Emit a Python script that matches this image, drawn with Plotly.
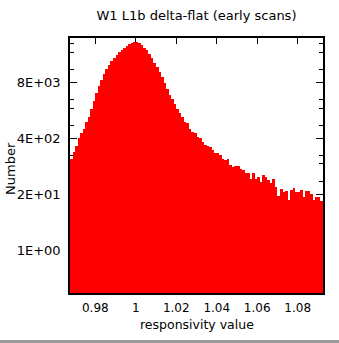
import numpy as np
import plotly.graph_objects as go

# Histogram of responsivity values: 100 bins of width 0.00125 starting at 0.9675
bin_start = 0.9675
bin_width = 0.00125
counts = [
    131, 193, 262, 396, 535, 641, 933, 1259, 1901, 2965,
    4406, 6516, 8980, 12390, 16180, 20060, 24200, 29170, 34260, 39170,
    44790, 49860, 55480, 60800, 65880, 69860, 68760, 64120, 58490, 51180,
    43620, 36150, 29170, 22920, 18020, 13790, 10270, 7450, 5550, 4130,
    3162, 2420, 1901, 1535, 1239, 973, 885, 651, 564, 518,
    418, 396, 330, 284, 262, 253, 212, 177, 180, 162,
    131, 127, 131, 94.8, 85.2, 87.5, 89.9, 75.3, 72.5, 62.8,
    62.8, 44.1, 60.8, 44.1, 49.1, 38.8, 55.5, 50.7, 42.5, 36.7,
    44.1, 29.7, 18.0, 25.8, 22.7, 23.9, 14.5, 24.9, 27.2, 22.7,
    22.7, 24.9, 17.4, 23.9, 23.9, 19.7, 14.5, 17.4, 16.8, 14.0,
]
bin_centers = bin_start + bin_width * (np.arange(len(counts)) + 0.5)

x_tick_vals = [0.98, 1.0, 1.02, 1.04, 1.06, 1.08]
x_tick_text = ["0.98", "1", "1.02", "1.04", "1.06", "1.08"]
y_tick_vals = [1, 20, 400, 8000]
y_tick_text = ["1E+00", "2E+01", "4E+02", "8E+03"]
y_minor_vals = [0.2, 0.5, 0.8, 2, 5, 8, 40, 100, 160, 800, 2000, 3200,
                16000, 40000, 64000]

font_family = "DejaVu Sans"
W, H = 339, 343
ML, MR, MT, MB = 70, 16, 38, 50
plot_w, plot_h = W - ML - MR, H - MT - MB

fig = go.Figure()
fig.add_trace(go.Bar(
    x=bin_centers,
    y=counts,
    width=bin_width,
    marker=dict(color="#ff0000", line=dict(width=0)),
    hoverinfo="x+y",
))

fig.update_layout(
    width=W,
    height=H,
    margin=dict(l=ML, r=MR, t=MT, b=MB),
    paper_bgcolor="white",
    plot_bgcolor="white",
    bargap=0,
    showlegend=False,
    font=dict(family=font_family, size=12, color="black"),
    title=dict(
        text="W1 L1b delta-flat (early scans)",
        x=0.5, xref="paper", xanchor="center",
        y=1 - 15 / H, yanchor="middle",
        font=dict(family=font_family, size=13, color="black"),
    ),
    xaxis=dict(
        range=[bin_start, bin_start + bin_width * len(counts)],
        automargin=False,
        tickmode="array",
        tickvals=x_tick_vals,
        ticktext=x_tick_text,
        ticks="inside",
        ticklen=6,
        tickwidth=1,
        tickcolor="black",
        ticklabelstandoff=3,
        tickfont=dict(family=font_family, size=12),
        showline=True,
        linecolor="black",
        linewidth=1.5,
        mirror="ticks",
        showgrid=False,
        zeroline=False,
        layer="below traces",
    ),
    yaxis=dict(
        type="log",
        range=[-1, 4.93],
        automargin=False,
        tickmode="array",
        tickvals=y_tick_vals,
        ticktext=y_tick_text,
        ticks="inside",
        ticklen=7,
        tickwidth=1,
        tickcolor="black",
        ticklabelstandoff=5,
        tickfont=dict(family=font_family, size=13),
        minor=dict(tickmode="array", tickvals=y_minor_vals, ticks="inside",
                   ticklen=4, tickwidth=1, tickcolor="black", showgrid=False),
        showline=True,
        linecolor="black",
        linewidth=1.5,
        mirror="ticks",
        showgrid=False,
        zeroline=False,
        layer="below traces",
    ),
)

# axis titles
fig.add_annotation(text="responsivity value", xref="paper", yref="paper",
                   x=0.5, y=-(324.5 - (H - MB)) / plot_h,
                   xanchor="center", yanchor="middle", showarrow=False,
                   font=dict(family=font_family, size=12.5))
fig.add_annotation(text="Number", xref="paper", yref="paper",
                   x=(10 - ML) / plot_w, y=((H - MB) - 169) / plot_h,
                   xanchor="center", yanchor="middle", textangle=-90,
                   showarrow=False, font=dict(family=font_family, size=13))

# thin grey strip along the bottom edge of the page
fig.add_shape(type="rect", xref="paper", yref="paper",
              x0=-ML / plot_w, x1=1 + MR / plot_w,
              y0=-MB / plot_h, y1=-(MB - 3) / plot_h,
              fillcolor="#9a9a9a", line=dict(width=0), layer="above")

fig.write_html("out.html")
